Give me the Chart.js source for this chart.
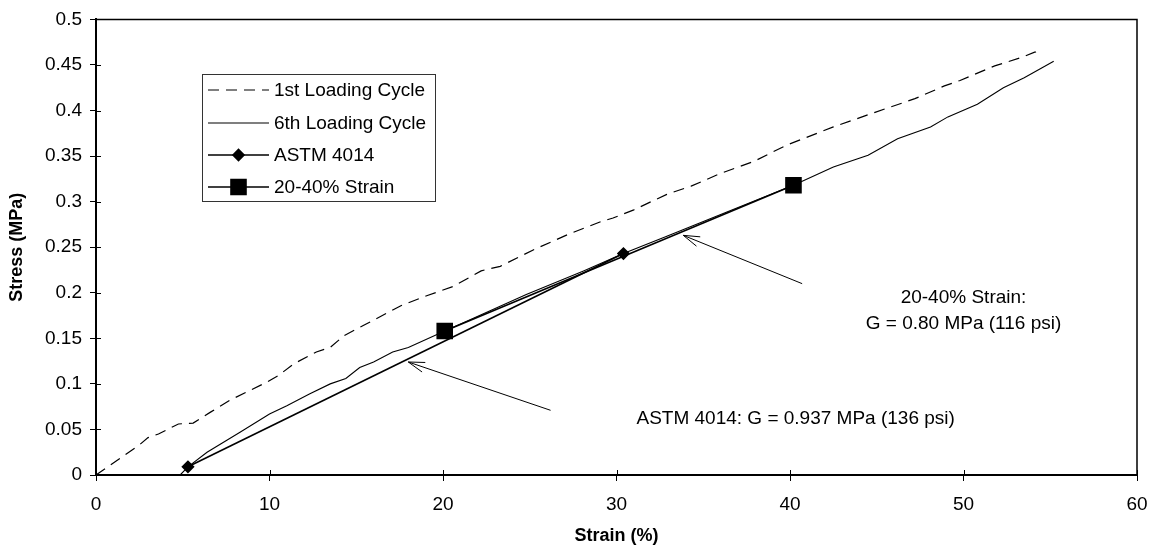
<!DOCTYPE html>
<html lang="en">
<head>
<meta charset="UTF-8" />
<title>Stress vs Strain</title>
<script src="https://cdn.jsdelivr.net/npm/chart.js"></script>
<style>
  body { margin: 0; background: #fff; }
  .grafico { width: 1164px; height: 557px; }
</style>
</head>
<body>
<div class="grafico"><canvas id="grafico"></canvas></div>
<script>
// 1st loading cycle (dashed curve)
const strainCycle1 = [0, 2.5, 3.0, 3.6, 4.75, 5.6, 6.6, 7.7, 8.9, 9.85, 10.5, 11.4, 12.7, 13.5, 14.3, 15.6, 17.6,
  19.1, 20.6, 22.2, 22.6, 23.3, 25.2, 27.2, 29.1, 29.8, 31.0, 32.0, 32.9, 34.3, 36.0, 37.9, 39.8, 42.5, 44.9,
  47.2, 48.9, 49.8, 51.8, 53.3, 54.1, 54.5];
const stressCycle1 = [0, 0.033, 0.041, 0.045, 0.056, 0.057, 0.069, 0.082, 0.093, 0.102, 0.109, 0.122, 0.135, 0.140,
  0.153, 0.166, 0.186, 0.197, 0.207, 0.224, 0.226, 0.229, 0.247, 0.264, 0.278, 0.282, 0.291, 0.300, 0.308, 0.317,
  0.331, 0.344, 0.362, 0.382, 0.398, 0.413, 0.427, 0.433, 0.449, 0.458, 0.464, 0.465];

// 6th loading cycle
const strainCycle6 = [4.85, 5.3, 6.4, 8.3, 10.0, 11.0, 12.3, 13.5, 14.4, 15.2, 16.0, 17.1, 18.0, 20.1, 21.4, 24.8,
  28.1, 30.4, 32.9, 36.4, 40.2, 42.5, 44.5, 46.2, 48.1, 49.1, 50.8, 52.3, 53.5, 55.2];
const stressCycle6 = [0.0, 0.009, 0.025, 0.047, 0.067, 0.076, 0.089, 0.100, 0.106, 0.118, 0.124, 0.135, 0.140, 0.158,
  0.169, 0.198, 0.224, 0.243, 0.262, 0.289, 0.318, 0.338, 0.351, 0.369, 0.382, 0.393, 0.407, 0.425, 0.436, 0.454];

// modulus lines
const strainAstm = [5.3, 30.4];
const stressAstm = [0.009, 0.243];
const strain2040 = [20.1, 40.2];
const stress2040 = [0.158, 0.318];

const xTicks = [0, 10, 20, 30, 40, 50, 60];
const xTickLabels = ['0', '10', '20', '30', '40', '50', '60'];
const yTicks = [0, 0.05, 0.1, 0.15, 0.2, 0.25, 0.3, 0.35, 0.4, 0.45, 0.5];
const yTickLabels = ['0', '0.05', '0.1', '0.15', '0.2', '0.25', '0.3', '0.35', '0.4', '0.45', '0.5'];

// text notes and arrows, in data units
const notes = [
  { text: '20-40% Strain:', x: 50, y: 0.195, align: 'center' },
  { text: 'G = 0.80 MPa (116 psi)', x: 50, y: 0.166, align: 'center' },
  { text: 'ASTM 4014: G = 0.937 MPa (136 psi)', x: 31.15, y: 0.062, align: 'left' }
];
const arrows = [
  { from: [26.2, 0.071], to: [18.0, 0.124] },
  { from: [40.7, 0.210], to: [33.85, 0.263] }
];

const FONT = "'Liberation Sans', Arial, sans-serif";
const pts = (xs, ys) => xs.map((x, i) => ({ x: x, y: ys[i] }));

// frame, inner ticks, arrows, notes and legend
const extras = {
  id: 'extras',
  afterDatasetsDraw(chart) {
    const ctx = chart.ctx;
    const a = chart.chartArea;
    const sx = chart.scales.x, sy = chart.scales.y;
    ctx.save();

    // top and right border
    ctx.strokeStyle = '#000';
    ctx.lineWidth = 1.5;
    ctx.beginPath();
    ctx.moveTo(a.left, a.top);
    ctx.lineTo(a.right, a.top);
    ctx.lineTo(a.right, a.bottom);
    ctx.stroke();

    // inner tick marks
    ctx.lineWidth = 1;
    ctx.beginPath();
    xTicks.forEach(v => {
      const px = Math.round(sx.getPixelForValue(v)) + 0.5;
      ctx.moveTo(px, a.bottom);
      ctx.lineTo(px, a.bottom - 5);
    });
    yTicks.forEach(v => {
      const py = Math.round(sy.getPixelForValue(v)) + 0.5;
      ctx.moveTo(a.left, py);
      ctx.lineTo(a.left + 5, py);
    });
    ctx.stroke();

    // arrows
    ctx.lineWidth = 1;
    arrows.forEach(ar => {
      const x1 = sx.getPixelForValue(ar.from[0]), y1 = sy.getPixelForValue(ar.from[1]);
      const x2 = sx.getPixelForValue(ar.to[0]), y2 = sy.getPixelForValue(ar.to[1]);
      const ang = Math.atan2(y1 - y2, x1 - x2);
      ctx.beginPath();
      ctx.moveTo(x1, y1);
      ctx.lineTo(x2, y2);
      ctx.moveTo(x2 + 17 * Math.cos(ang - 0.3), y2 + 17 * Math.sin(ang - 0.3));
      ctx.lineTo(x2, y2);
      ctx.lineTo(x2 + 17 * Math.cos(ang + 0.3), y2 + 17 * Math.sin(ang + 0.3));
      ctx.stroke();
    });

    // notes
    ctx.fillStyle = '#000';
    ctx.font = '19px ' + FONT;
    ctx.textBaseline = 'middle';
    notes.forEach(n => {
      ctx.textAlign = n.align;
      ctx.fillText(n.text, sx.getPixelForValue(n.x), sy.getPixelForValue(n.y));
    });

    // legend box
    const box = { left: 202, top: 74, width: 233, height: 127 };
    ctx.fillStyle = '#fff';
    ctx.fillRect(box.left, box.top, box.width, box.height);
    ctx.strokeStyle = '#333';
    ctx.lineWidth = 1;
    ctx.strokeRect(box.left + 0.5, box.top + 0.5, box.width, box.height);
    const rows = [90, 123, 155, 187];
    chart.data.datasets.forEach((ds, i) => {
      const y = rows[i];
      ctx.strokeStyle = '#000';
      ctx.lineWidth = ds.borderWidth;
      ctx.setLineDash(ds.borderDash || []);
      ctx.beginPath();
      ctx.moveTo(208, y);
      ctx.lineTo(269, y);
      ctx.stroke();
      ctx.setLineDash([]);
      if (ds.pointRadius > 0) {
        Chart.helpers.drawPoint(ctx, {
          pointStyle: ds.pointStyle, radius: ds.pointRadius, rotation: 0, borderWidth: 1
        }, 238.5, y);
        ctx.fillStyle = '#000';
        ctx.fill();
      }
      ctx.fillStyle = '#000';
      ctx.textAlign = 'left';
      ctx.fillText(ds.label, 274, y + 1);
    });
    ctx.restore();
  }
};

const ctx = document.getElementById('grafico').getContext('2d');
new Chart(ctx, {
  type: 'scatter',
  data: {
    datasets: [
      {
        label: '1st Loading Cycle',
        data: pts(strainCycle1, stressCycle1),
        showLine: true, borderColor: '#000', borderWidth: 1.2, borderDash: [11, 7],
        pointRadius: 0, tension: 0
      },
      {
        label: '6th Loading Cycle',
        data: pts(strainCycle6, stressCycle6),
        showLine: true, borderColor: '#000', borderWidth: 1.1,
        pointRadius: 0, tension: 0
      },
      {
        label: 'ASTM 4014',
        data: pts(strainAstm, stressAstm),
        showLine: true, borderColor: '#000', borderWidth: 1.6,
        pointStyle: 'rectRot', pointRadius: 5.5, backgroundColor: '#000', pointBorderColor: '#000'
      },
      {
        label: '20-40% Strain',
        data: pts(strain2040, stress2040),
        showLine: true, borderColor: '#000', borderWidth: 1.6,
        pointStyle: 'rect', pointRadius: 10.6, backgroundColor: '#000', pointBorderColor: '#000'
      }
    ]
  },
  options: {
    responsive: true,
    maintainAspectRatio: false,
    animation: false,
    layout: { padding: { top: 17, right: 27, left: 0, bottom: 0 } },
    plugins: {
      legend: { display: false },
      tooltip: { enabled: false }
    },
    scales: {
      x: {
        type: 'linear', min: 0, max: 60,
        afterBuildTicks: s => { s.ticks = xTicks.map(v => ({ value: v })); },
        afterFit: s => { s.height = 82; },
        ticks: {
          color: '#000', font: { family: FONT, size: 19 }, padding: 12,
          maxRotation: 0, callback: (v, i) => xTickLabels[i]
        },
        grid: { drawOnChartArea: false, drawTicks: true, tickLength: 6, color: '#000', lineWidth: 1 },
        border: { color: '#000', width: 2 },
        title: {
          display: true, text: 'Strain (%)', color: '#000',
          font: { family: FONT, size: 18, weight: 'bold' }, padding: { bottom: 10 }
        }
      },
      y: {
        type: 'linear', min: 0, max: 0.5,
        afterBuildTicks: s => { s.ticks = yTicks.map(v => ({ value: v })); },
        afterFit: s => { s.width = 96; },
        ticks: {
          color: '#000', font: { family: FONT, size: 19 }, padding: 8,
          callback: (v, i) => yTickLabels[i]
        },
        grid: { drawOnChartArea: false, drawTicks: true, tickLength: 6, color: '#000', lineWidth: 1 },
        border: { color: '#000', width: 2 },
        title: {
          display: true, text: 'Stress (MPa)', color: '#000',
          font: { family: FONT, size: 18, weight: 'bold' }, padding: { top: 6 }
        }
      }
    }
  },
  plugins: [extras]
});
</script>
</body>
</html>
